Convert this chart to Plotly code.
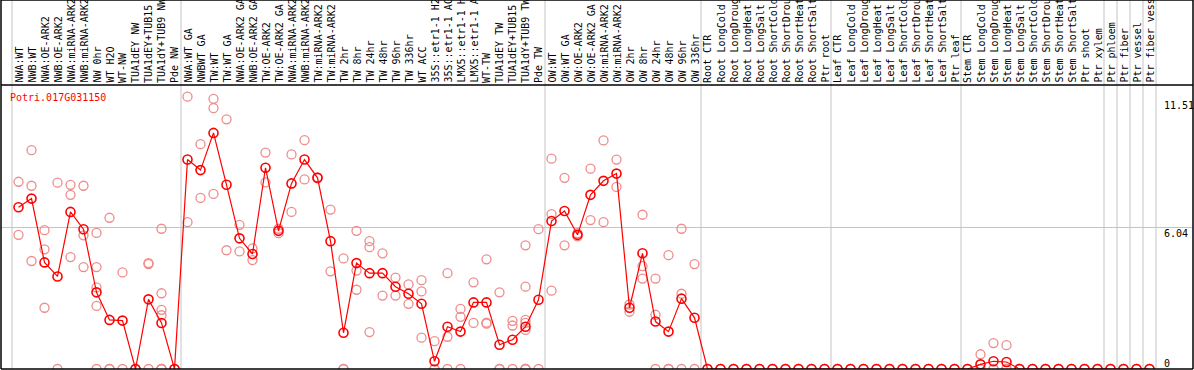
import plotly.graph_objects as go

gene = "Potri.017G031150"

labels = [
    "NWA:WT", "NWB:WT", "NWA:OE-ARK2", "NWB:OE-ARK2", "NWA:miRNA-ARK2", "NWB:miRNA-ARK2",
    "NW 0hr", "WT H2O", "WT-NW", "TUA1dEY NW", "TUA1dEY+TUB15 NW", "TUA1dY+TUB9 NW", "Pde NW",
    "NWA:WT GA", "NWBWT GA", "TW:WT", "TW:WT GA", "NWA:OE-ARK2 GA", "NWB:OE-ARK2 GA",
    "TW:OE-ARK2", "TW:OE-ARK2 GA", "NWA:miRNA-ARK2", "NWB:miRNA-ARK2", "TW:miRNA-ARK2",
    "TW:miRNA-ARK2", "TW 2hr", "TW 8hr", "TW 24hr", "TW 48hr", "TW 96hr", "TW 336hr",
    "WT ACC", "35S::etr1-1 H2O", "35S::etr1-1 ACC", "LMX5::etr1-1 H2O", "LMX5::etr1-1 ACC",
    "WT-TW", "TUA1dEY TW", "TUA1dEY+TUB15 TW", "TUA1dY+TUB9 TW", "Pde TW",
    "OW:WT", "OW:WT GA", "OW:OE-ARK2", "OW:OE-ARK2 GA", "OW:miRNA-ARK2", "OW:miRNA-ARK2",
    "OW 2hr", "OW 8hr", "OW 24hr", "OW 48hr", "OW 96hr", "OW 336hr",
    "Root CTR", "Root LongCold", "Root LongDrought", "Root LongHeat", "Root LongSalt",
    "Root ShortCold", "Root ShortDrought", "Root ShortHeat", "Root ShortSalt", "Ptr root",
    "Leaf CTR", "Leaf LongCold", "Leaf LongDrought", "Leaf LongHeat", "Leaf LongSalt",
    "Leaf ShortCold", "Leaf ShortDrought", "Leaf ShortHeat", "Leaf ShortSalt", "Ptr leaf",
    "Stem CTR", "Stem LongCold", "Stem LongDrought", "Stem LongHeat", "Stem LongSalt",
    "Stem ShortCold", "Stem ShortDrought", "Stem ShortHeat", "Stem ShortSalt",
    "Ptr shoot", "Ptr xylem", "Ptr phloem", "Ptr fiber", "Ptr vessel", "Ptr fiber vessel",
]

means = [
    6.92, 7.29, 4.56, 3.96, 6.72, 5.98, 3.28, 2.10, 2.07, 0.0, 2.98, 1.97, 0.0,
    8.96, 8.51, 10.10, 7.88, 5.59, 4.92, 8.61, 5.91, 7.94, 8.96, 8.18, 5.47, 1.55,
    4.53, 4.10, 4.10, 3.52, 3.22, 2.79, 0.33, 1.81, 1.60, 2.85, 2.85, 1.04, 1.25,
    1.81, 2.96,
    6.33, 6.76, 5.74, 7.45, 8.05, 8.36, 2.62, 4.95, 2.03, 1.60, 3.01, 2.19,
    0, 0, 0, 0, 0, 0, 0, 0, 0, 0,
    0, 0, 0, 0, 0, 0, 0, 0, 0, 0,
    0, 0.20, 0.33, 0.30, 0, 0, 0, 0, 0, 0, 0, 0, 0, 0, 0,
]

replicates = [
    [8.01, 5.74], [9.36, 7.84, 4.62], [5.94, 5.12, 2.62], [7.97, 0], [7.88, 7.45, 4.79],
    [7.84, 5.72, 4.36], [5.82, 4.36, 3.49, 2.70, 0], [6.47, 0, 0], [4.13, 0], [0, 0],
    [4.53, 4.49, 0], [6.00, 3.24, 2.53, 2.30, 0, 0, 0], [0, 0],
    [11.65, 6.28], [9.62, 7.32], [11.56, 11.16, 7.49], [10.68, 5.08], [6.17, 5.03],
    [5.16, 4.66], [9.26, 7.98], [6.00, 5.81], [9.18, 6.72], [9.79, 8.11], [8.20, 8.16],
    [6.82, 4.18], [4.73, 0, 0], [5.91, 4.21, 3.39], [5.47, 5.21, 1.58], [4.95, 3.14],
    [3.91, 3.14], [3.62, 2.79], [3.80, 3.32, 1.34], [1.19, 0, 0], [4.10, 1.38, 0],
    [2.57, 2.23, 0], [3.71, 1.97], [4.69, 1.98, 1.94], [3.28, 0, 0], [2.06, 1.86, 0],
    [5.29, 3.52, 2.10, 1.97, 1.67, 0, 0, 0], [5.98, 0],
    [9.00, 6.63, 3.35], [8.18, 5.29], [5.81, 5.67], [8.57, 6.37], [9.78, 6.28],
    [8.96, 7.79], [2.76, 2.45], [6.60, 4.40, 3.87], [3.87, 2.32, 0], [4.87, 0, 0],
    [6.00, 3.22, 0], [4.49, 0],
    [0, 0], [0, 0], [0, 0], [0, 0], [0, 0], [0, 0], [0, 0], [0, 0], [0, 0], [0, 0],
    [0, 0], [0, 0], [0, 0], [0, 0], [0, 0], [0, 0], [0, 0], [0, 0], [0, 0], [0, 0],
    [0, 0], [0.63, 0, 0], [1.11, 0, 0], [1.02, 0, 0], [0, 0], [0, 0], [0, 0], [0, 0],
    [0, 0], [0, 0], [0, 0], [0, 0], [0, 0], [0, 0], [0, 0],
]

# group boundaries (index of last category in each block)
group_ends = [-1, 12, 40, 52, 62, 72, 83, 84, 85, 86, 87]

ytick_vals = [0, 6.04, 11.51]
ytick_text = ["0", "6.04", "11.51"]

W, H = 1194, 370
ML, MR, MT, MB = 1, 1, 85, 1
PW, PH = W - ML - MR, H - MT - MB
YMAX = 12.15
X0 = -1.346
XSPAN = PW / 13.0

mono = "DejaVu Sans Mono"

rx, ry = [], []
for i, reps in enumerate(replicates):
    for v in reps:
        rx.append(i)
        ry.append(v)

fig = go.Figure()
fig.add_trace(go.Scatter(
    x=rx, y=ry, mode="markers",
    marker=dict(symbol="circle-open", size=9, color="rgb(238,140,140)",
                line=dict(width=1.3, color="rgb(238,140,140)")),
    hoverinfo="skip", showlegend=False,
))
fig.add_trace(go.Scatter(
    x=list(range(len(means))), y=means, mode="lines+markers",
    line=dict(color="#ff0000", width=1.2),
    marker=dict(symbol="circle-open", size=9, color="#ff0000",
                line=dict(width=1.6, color="#ff0000")),
    showlegend=False,
))

shapes = []
top_paper = (H - MB) / PH  # figure top in paper coords
for g in group_ends:
    shapes.append(dict(type="line", xref="x", yref="paper", x0=g + 0.5, x1=g + 0.5,
                       y0=0, y1=top_paper, line=dict(color="#c4c4c4", width=1), layer="below"))
# frame
black = dict(color="black", width=1.5)
shapes += [
    dict(type="line", xref="paper", yref="paper", x0=0, x1=1, y0=1, y1=1, line=black),
    dict(type="line", xref="paper", yref="paper", x0=0, x1=1, y0=0, y1=0, line=black),
    dict(type="line", xref="paper", yref="paper", x0=0, x1=0, y0=0, y1=top_paper, line=black),
    dict(type="line", xref="paper", yref="paper", x0=1, x1=1, y0=0, y1=top_paper, line=black),
    dict(type="line", xref="paper", yref="paper", x0=0, x1=1, y0=top_paper, y1=top_paper, line=black),
]

annotations = []
for i, lab in enumerate(labels):
    annotations.append(dict(
        x=i, xref="x", y=1, yref="paper", text=lab, textangle=-90,
        xanchor="center", yanchor="bottom", showarrow=False, yshift=0,
        font=dict(family=mono, size=10, color="black"),
    ))
for v, t in zip(ytick_vals, ytick_text):
    annotations.append(dict(
        x=(1162 - ML) / PW, xref="paper", y=v, yref="y", text=t,
        xanchor="left", yanchor="middle", showarrow=False,
        yshift=6 if v == 0 else -6,
        font=dict(family=mono, size=10, color="black"),
    ))
annotations.append(dict(
    x=(8 - ML) / PW, xref="paper", y=(H - MB - 97) / PH, yref="paper", text=gene,
    xanchor="left", yanchor="middle", showarrow=False,
    font=dict(family=mono, size=10, color="#ff0000"),
))

fig.update_layout(
    width=W, height=H,
    margin=dict(l=ML, r=MR, t=MT, b=MB, pad=0),
    paper_bgcolor="white", plot_bgcolor="white",
    xaxis=dict(range=[X0, X0 + XSPAN], showgrid=False, zeroline=False,
               showticklabels=False, ticks="", fixedrange=True),
    yaxis=dict(range=[0, YMAX], tickvals=[6.04], showgrid=True, gridcolor="#c4c4c4",
               gridwidth=1, zeroline=False, showticklabels=False, ticks="", fixedrange=True),
    shapes=shapes, annotations=annotations,
    showlegend=False,
)

fig.write_html(
    "out.html",
    config={"displayModeBar": False},
    post_script="document.body.style.margin='0';document.body.style.overflow='hidden';",
)
